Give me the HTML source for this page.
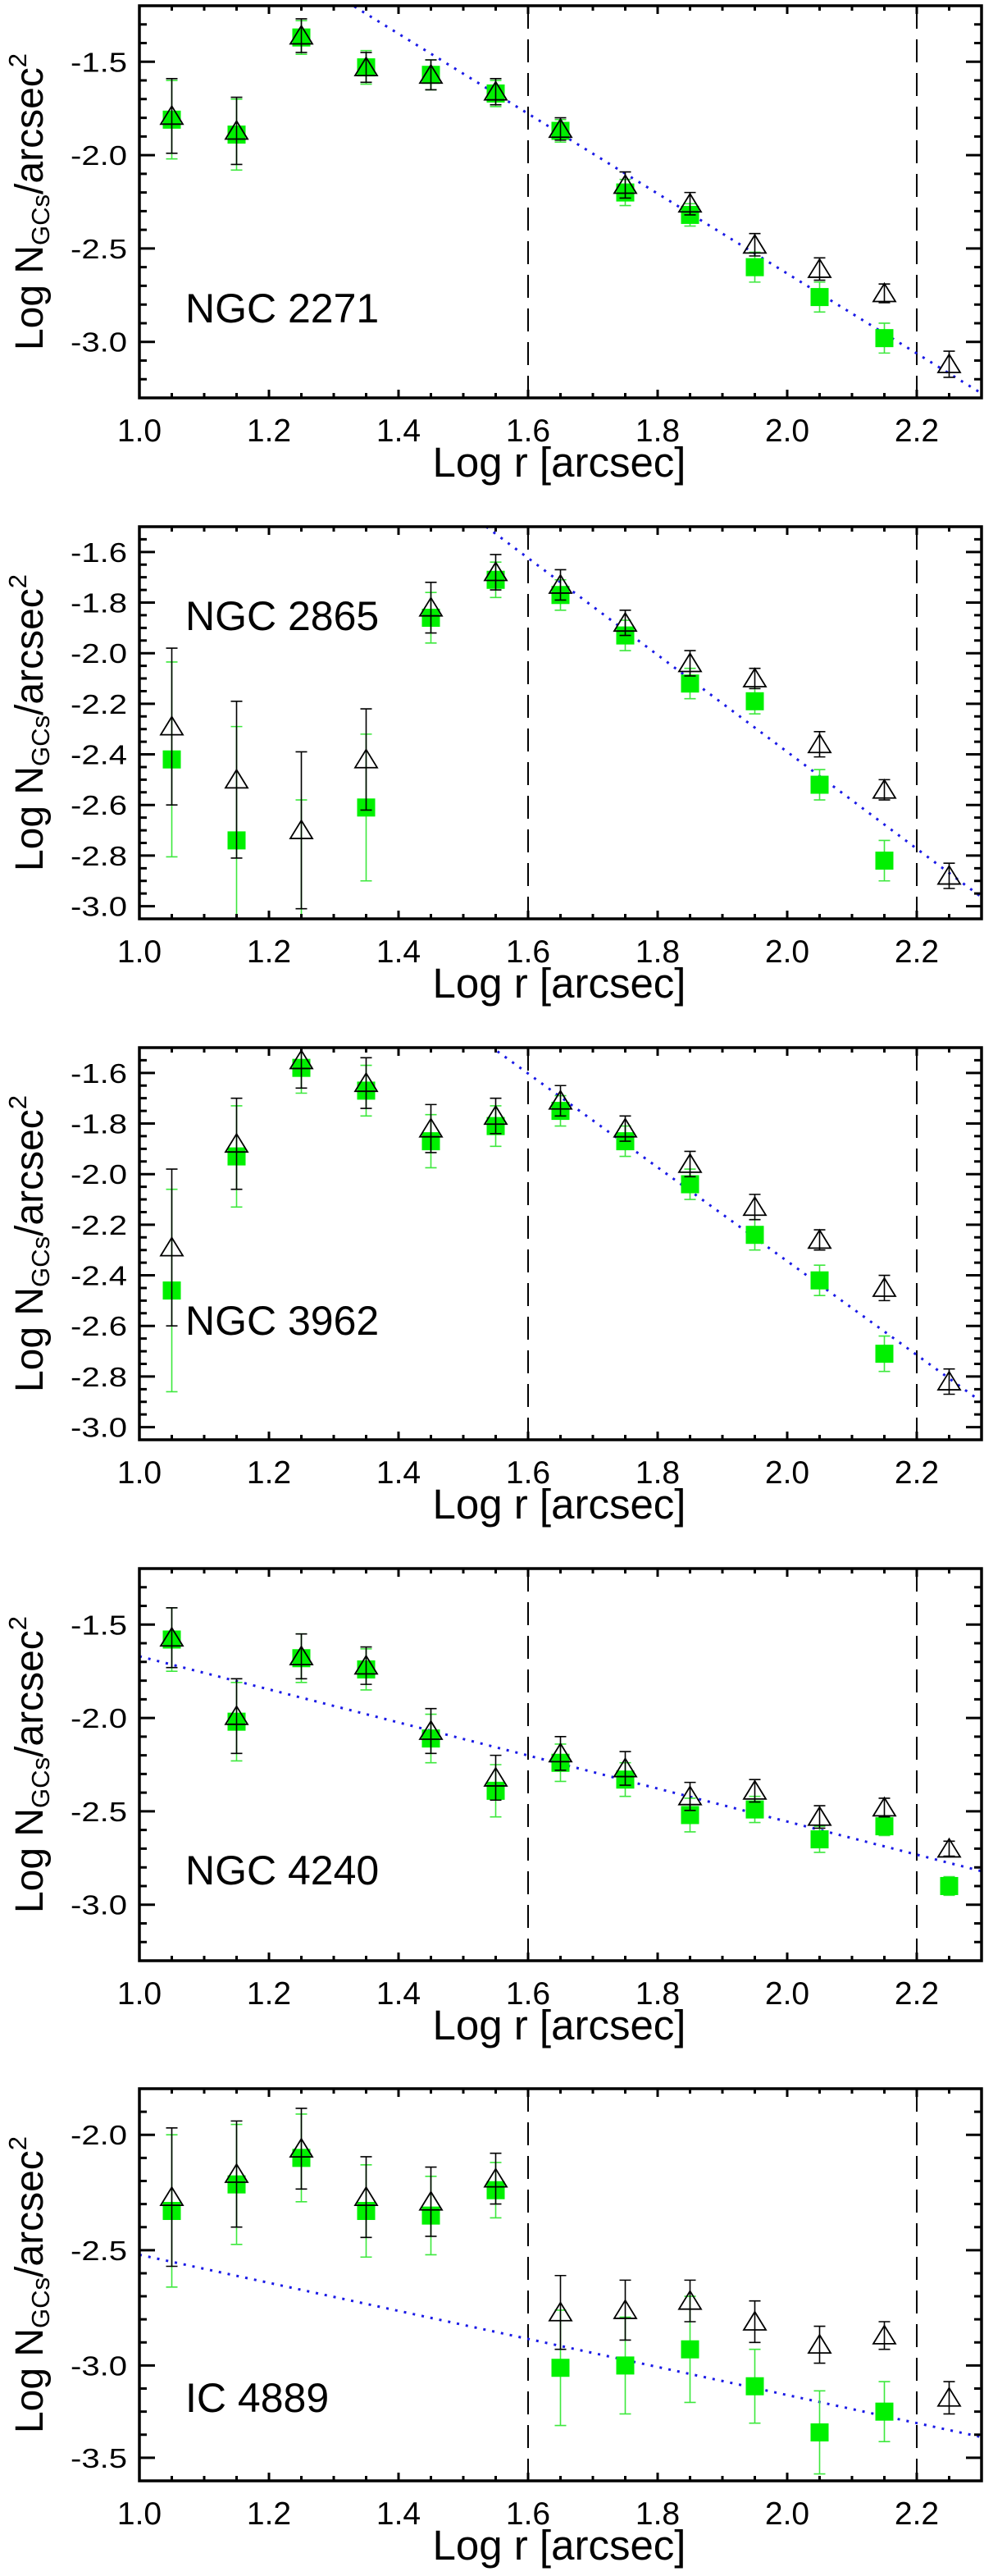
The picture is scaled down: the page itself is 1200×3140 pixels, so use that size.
<!DOCTYPE html>
<html>
<head>
<meta charset="utf-8">
<style>
html,body{margin:0;padding:0;background:#fff;}
svg{display:block;}
text{font-family:"Liberation Sans",Arial,sans-serif;fill:#000;}
</style>
</head>
<body>
<svg id="fig" width="1200" height="3140" viewBox="0 0 1200 3140" xmlns="http://www.w3.org/2000/svg"></svg>
<script>
// ---------- data ----------
const xCenters = [1.05,1.15,1.25,1.35,1.45,1.55,1.65,1.75,1.85,1.95,2.05,2.15,2.25];
const galaxyNames = ["NGC 2271","NGC 2865","NGC 3962","NGC 4240","IC 4889"];
const xTickValues = [1.0,1.2,1.4,1.6,1.8,2.0,2.2];
const xTickLabels = ["1.0","1.2","1.4","1.6","1.8","2.0","2.2"];
const boundaryLines = [1.6,2.2];

// NGC 2271
const green1 = [-1.81,-1.89,-1.37,-1.53,-1.57,-1.67,-1.87,-2.20,-2.32,-2.60,-2.76,-2.98,null];
const greenErr1 = [0.21,0.19,0.09,0.09,0.08,0.07,0.06,0.07,0.06,0.08,0.08,0.08,null];
const tri1 = [-1.79,-1.87,-1.36,-1.53,-1.57,-1.66,-1.86,-2.16,-2.26,-2.48,-2.61,-2.74,-3.12];
const triErr1 = [0.20,0.18,0.09,0.08,0.08,0.07,0.06,0.07,0.06,0.06,0.06,0.05,0.07];
// NGC 2865
const green2 = [-2.42,-2.74,-3.15,-2.61,-1.86,-1.71,-1.77,-1.93,-2.12,-2.19,-2.52,-2.82,null];
const greenErr2 = [0.385,0.45,0.57,0.29,0.10,0.07,0.06,0.06,0.06,0.05,0.06,0.08,null];
const tri2 = [-2.29,-2.50,-2.70,-2.42,-1.82,-1.68,-1.73,-1.88,-2.04,-2.10,-2.36,-2.54,-2.88];
const triErr2 = [0.31,0.31,0.31,0.20,0.10,0.07,0.06,0.05,0.05,0.04,0.05,0.04,0.05];
// NGC 3962
const green3 = [-2.46,-1.93,-1.58,-1.67,-1.87,-1.81,-1.75,-1.87,-2.04,-2.24,-2.42,-2.71,null];
const greenErr3 = [0.40,0.20,0.10,0.10,0.105,0.08,0.06,0.06,0.06,0.06,0.06,0.07,null];
const tri3 = [-2.29,-1.88,-1.55,-1.64,-1.82,-1.77,-1.71,-1.82,-1.96,-2.13,-2.26,-2.45,-2.82];
const triErr3 = [0.31,0.18,0.11,0.10,0.095,0.07,0.06,0.05,0.05,0.05,0.04,0.05,0.05];
// NGC 4240
const green4 = [-1.58,-2.02,-1.68,-1.74,-2.11,-2.39,-2.24,-2.33,-2.52,-2.49,-2.65,-2.58,-2.90];
const greenErr4 = [0.17,0.21,0.13,0.11,0.13,0.14,0.10,0.09,0.09,0.07,0.07,0.05,0.05];
const tri4 = [-1.57,-1.99,-1.67,-1.72,-2.07,-2.32,-2.19,-2.27,-2.42,-2.39,-2.53,-2.48,-2.70];
const triErr4 = [0.16,0.20,0.12,0.10,0.12,0.12,0.09,0.09,0.075,0.06,0.06,0.05,0.04];
// IC 4889
const green5 = [-2.33,-2.215,-2.10,-2.33,-2.35,-2.24,-3.01,-3.00,-2.93,-3.09,-3.29,-3.20,null];
const greenErr5 = [0.33,0.26,0.19,0.20,0.17,0.12,0.25,0.21,0.23,0.16,0.18,0.13,null];
const tri5 = [-2.27,-2.17,-2.06,-2.27,-2.29,-2.19,-2.77,-2.76,-2.72,-2.81,-2.91,-2.87,-3.14];
const triErr5 = [0.30,0.23,0.175,0.175,0.15,0.11,0.16,0.13,0.09,0.09,0.08,0.06,0.07];

// power-law fits: value at log r = 1.0 and slope
const fitAtOne = [-0.494,-0.475,-0.49,-1.67,-2.52];
const fitSlope = [-2.14,-1.915,-1.854,-0.885,-0.608];

// y-axis tick values / labels
const yTicks1 = [-1.5,-2.0,-2.5,-3.0];
const yTickLabels1 = ["-1.5","-2.0","-2.5","-3.0"];
const yTicks2 = [-1.6,-1.8,-2.0,-2.2,-2.4,-2.6,-2.8,-3.0];
const yTickLabels2 = ["-1.6","-1.8","-2.0","-2.2","-2.4","-2.6","-2.8","-3.0"];
const yTicks3 = [-1.6,-1.8,-2.0,-2.2,-2.4,-2.6,-2.8,-3.0];
const yTickLabels3 = ["-1.6","-1.8","-2.0","-2.2","-2.4","-2.6","-2.8","-3.0"];
const yTicks4 = [-1.5,-2.0,-2.5,-3.0];
const yTickLabels4 = ["-1.5","-2.0","-2.5","-3.0"];
const yTicks5 = [-2.0,-2.5,-3.0,-3.4];
const yTickLabels5 = ["-2.0","-2.5","-3.0","-3.5"];
const yRanges = [[-3.3,-1.2],[-3.05,-1.5],[-3.05,-1.5],[-3.3,-1.2],[-3.5,-1.8]];
const yMinorSteps = [0.1,0.05,0.05,0.1,0.1];

// ---------- layout ----------
const NS = "http://www.w3.org/2000/svg";
const svg = document.getElementById("fig");
const XL = 170, XR = 1197, XMIN = 1.0, XMAX = 2.3;
const TOPS = [7,642,1277,1912,2546], H = 478;
const sx = v => XL + (v - XMIN) / (XMAX - XMIN) * (XR - XL);
const labelBaselines = [393,768,1627,2297,2940];

function el(tag, parent, attrs) {
  const e = document.createElementNS(NS, tag);
  for (const k in attrs) e.setAttribute(k, attrs[k]);
  parent.appendChild(e);
  return e;
}

const greens = [green1,green2,green3,green4,green5];
const greenErrs = [greenErr1,greenErr2,greenErr3,greenErr4,greenErr5];
const tris = [tri1,tri2,tri3,tri4,tri5];
const triErrs = [triErr1,triErr2,triErr3,triErr4,triErr5];
const yTicksAll = [yTicks1,yTicks2,yTicks3,yTicks4,yTicks5];
const yLabelsAll = [yTickLabels1,yTickLabels2,yTickLabels3,yTickLabels4,yTickLabels5];

for (let p = 0; p < 5; p++) {
  const top = TOPS[p], bot = top + H;
  const [ymin, ymax] = yRanges[p];
  const sy = v => bot - (v - ymin) / (ymax - ymin) * H;

  const g = el("g", svg, {});
  
  

  const clip = el("clipPath", g, {id: "clip" + p});
  el("rect", clip, {x: XL, y: top, width: XR - XL, height: H});
  const plot = el("g", g, {"clip-path": "url(#clip" + p + ")"});
  
  

  // boundary dashed lines
  for (const b of boundaryLines) {
    const l = el("line", plot, {x1: sx(b), x2: sx(b), y1: top, y2: bot, stroke: "#000", "stroke-width": 2, "stroke-dasharray": "28 13"});
    
    
  }

  // fit line
  const fx1 = XMIN, fx2 = XMAX;
  const fit = el("line", plot, {x1: sx(fx1), y1: sy(fitAtOne[p] + fitSlope[p] * (fx1 - 1)), x2: sx(fx2), y2: sy(fitAtOne[p] + fitSlope[p] * (fx2 - 1)), stroke: "#1a1ae6", "stroke-width": 3, "stroke-dasharray": "3 8"});
  
  

  // green series
  const gv = greens[p], ge = greenErrs[p];
  for (let i = 0; i < xCenters.length; i++) {
    if (gv[i] === null) continue;
    const x = sx(xCenters[i]), y = sy(gv[i]), y1 = sy(gv[i] + ge[i]), y2 = sy(gv[i] - ge[i]);
    const eb = el("path", plot, {d: `M${x},${y1}V${y2}M${x-7},${y1}H${x+7}M${x-7},${y2}H${x+7}`, stroke: "#3de83d", "stroke-width": 1.6, fill: "none"});
    
    
    const sq = el("rect", plot, {x: x - 11, y: y - 11, width: 22, height: 22, fill: "#00f000"});
    
    
  }
  // triangle series
  const tv = tris[p], te = triErrs[p];
  for (let i = 0; i < xCenters.length; i++) {
    if (tv[i] === null) continue;
    const x = sx(xCenters[i]), y = sy(tv[i]), y1 = sy(tv[i] + te[i]), y2 = sy(tv[i] - te[i]);
    const eb = el("path", plot, {d: `M${x},${y1}V${y2}M${x-7},${y1}H${x+7}M${x-7},${y2}H${x+7}`, stroke: "#000", "stroke-width": 1.6, fill: "none"});
    
    
    const tr = el("path", plot, {d: `M${x},${y-12}L${x+13.5},${y+10}L${x-13.5},${y+10}Z`, stroke: "#000", "stroke-width": 1.8, fill: "none"});
    
    
  }

  // frame
  const fr = el("rect", g, {x: XL, y: top, width: XR - XL, height: H, fill: "none", stroke: "#000", "stroke-width": 3.5});
  
  

  // x ticks (minor every 0.05)
  let d = "";
  for (let k = 0; k <= 26; k++) {
    const v = 1.0 + k * 0.05;
    const x = sx(v);
    const major = (k % 4 === 0);
    const len = major ? 10 : 6;
    d += `M${x},${bot}V${bot-len}M${x},${top}V${top+len}`;
  }
  // y ticks
  const step = yMinorSteps[p];
  const nMin = Math.round((ymax - ymin) / step);
  const yt = yTicksAll[p];
  for (let k = 0; k <= nMin; k++) {
    const v = ymax - k * step;
    const isMajor = yt.some(t => Math.abs(t - v) < 1e-6);
    const len = isMajor ? 19 : 9;
    const y = sy(v);
    d += `M${XL},${y}H${XL+len}M${XR},${y}H${XR-len}`;
  }
  // odd major (e.g. -3.4 labelled -3.5)
  for (const t of yt) {
    const y = sy(t);
    d += `M${XL},${y}H${XL+19}M${XR},${y}H${XR-19}`;
  }
  const ticks = el("path", g, {d: d, stroke: "#000", "stroke-width": 3, fill: "none"});
  
  

  // x tick labels
  for (let i = 0; i < xTickValues.length; i++) {
    const t = el("text", g, {x: sx(xTickValues[i]), y: bot + 53, "text-anchor": "middle", "font-size": 39});
    t.textContent = xTickLabels[i];
    
    
  }
  // y tick labels
  const yl = yLabelsAll[p];
  for (let i = 0; i < yt.length; i++) {
    const t = el("text", g, {x: 155, y: sy(yt[i]) + 12, "text-anchor": "end", "font-size": 33, textLength: 69, lengthAdjust: "spacingAndGlyphs"});
    t.textContent = yl[i];
    
    
  }
  // x title
  const xt = el("text", g, {x: 682, y: bot + 96, "text-anchor": "middle", "font-size": 51});
  xt.textContent = "Log r [arcsec]";
  
  

  // y title
  const cy = top + H / 2;
  const ytl = el("text", g, {x: 0, y: 0, "text-anchor": "middle", "font-size": 48, transform: `translate(52,${cy}) rotate(-90)`});
  
  
  const s1 = el("tspan", ytl, {});
  s1.textContent = "Log N";
  const s2 = el("tspan", ytl, {"font-size": 31, dy: 8});
  s2.textContent = "GCs";
  const s3 = el("tspan", ytl, {dy: -8});
  s3.textContent = "/arcsec";
  const s4 = el("tspan", ytl, {"font-size": 31, dy: -20});
  s4.textContent = "2";

  // galaxy label
  const gl = el("text", g, {x: 226, y: labelBaselines[p], "font-size": 50});
  gl.textContent = galaxyNames[p];
  
  
}
</script>
</body>
</html>
